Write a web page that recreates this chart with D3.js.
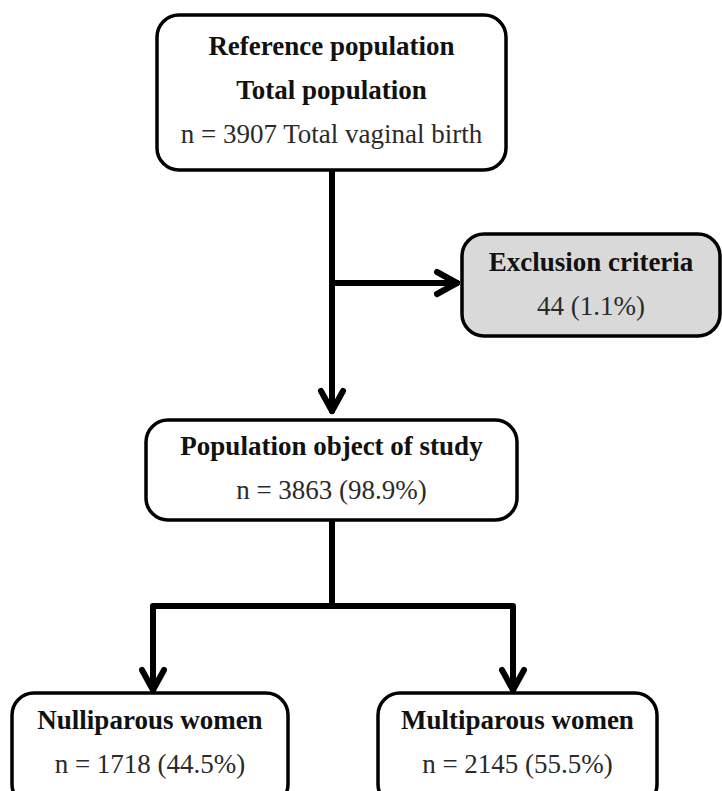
<!DOCTYPE html>
<html>
<head>
<meta charset="utf-8">
<title>Study flowchart</title>
<script src="https://d3js.org/d3.v7.min.js"></script>
<style>
  body { margin: 0; background: #fff; }
  svg text { font-family: "Liberation Serif", "DejaVu Serif", serif; }
</style>
</head>
<body>
<div id="chart"></div>
<script>
// chart data
const nodeIds = ["reference", "exclusion", "study", "nulliparous", "multiparous"];
const boldLines = [
  ["Reference population", "Total population"],
  ["Exclusion criteria"],
  ["Population object of study"],
  ["Nulliparous women"],
  ["Multiparous women"]
];
const counts = [3907, 44, 3863, 1718, 2145];
const percents = [null, 1.1, 98.9, 44.5, 55.5];
const countLabels = [
  "n = 3907 Total vaginal birth",
  "44 (1.1%)",
  "n = 3863 (98.9%)",
  "n = 1718 (44.5%)",
  "n = 2145 (55.5%)"
];

// layout (boxes as x0, y0, x1, y1)
const W = 722, H = 791;
const boxes = {
  reference:   [157, 15, 506, 170],
  exclusion:   [462, 234, 720, 336],
  study:       [146, 420, 517, 520],
  nulliparous: [12, 693, 288, 806],
  multiparous: [378, 693, 657, 806]
};
const fills = { exclusion: "#d9d9d9" };
const firstBaseline = { reference: 55, exclusion: 271, study: 455, nulliparous: 729, multiparous: 729 };
const lineGap = 44;

const svg = d3.select("#chart").append("svg")
  .attr("width", W).attr("height", H);

// connectors
const cx = 332;
const links = [
  { pts: [[cx, 170], [cx, 411]], arrow: "down" },
  { pts: [[cx, 283], [457, 283]], arrow: "right" },
  { pts: [[cx, 520], [cx, 606]], arrow: null },
  { pts: [[153, 690], [153, 606], [513, 606], [513, 690]], arrow: "both-down" }
];

const line = d3.line();
const g = svg.append("g")
  .attr("fill", "none")
  .attr("stroke", "#000")
  .attr("stroke-width", 6)
  .attr("stroke-linecap", "round")
  .attr("stroke-linejoin", "round");

g.selectAll("path.link")
  .data(links)
  .join("path")
  .attr("class", "link")
  .attr("d", d => line(d.pts));

function head(tip, dir) {
  const a = 20, p = 11;
  if (dir === "down") return [[tip[0] - p, tip[1] - a], tip, [tip[0] + p, tip[1] - a]];
  return [[tip[0] - a, tip[1] - p], tip, [tip[0] - a, tip[1] + p]];
}
const heads = [];
links.forEach(l => {
  if (l.arrow === "down" || l.arrow === "right") heads.push(head(l.pts[l.pts.length - 1], l.arrow));
  if (l.arrow === "both-down") {
    heads.push(head(l.pts[0], "down"));
    heads.push(head(l.pts[l.pts.length - 1], "down"));
  }
});
g.selectAll("path.head")
  .data(heads)
  .join("path")
  .attr("class", "head")
  .attr("d", d => line(d));

// boxes
const nodes = nodeIds.map((id, i) => ({
  id, box: boxes[id], bold: boldLines[i], label: countLabels[i], n: counts[i], pct: percents[i]
}));

const node = svg.selectAll("g.node")
  .data(nodes)
  .join("g")
  .attr("class", "node");

node.append("rect")
  .attr("x", d => d.box[0])
  .attr("y", d => d.box[1])
  .attr("width", d => d.box[2] - d.box[0])
  .attr("height", d => d.box[3] - d.box[1])
  .attr("rx", 22)
  .attr("fill", d => fills[d.id] || "#fff")
  .attr("stroke", "#000")
  .attr("stroke-width", 3.5);

node.each(function (d) {
  const sel = d3.select(this);
  const mid = (d.box[0] + d.box[2]) / 2;
  const lines = d.bold.map(t => ({ t, bold: true })).concat([{ t: d.label, bold: false }]);
  sel.selectAll("text")
    .data(lines)
    .join("text")
    .attr("x", mid)
    .attr("y", (l, j) => firstBaseline[d.id] + j * lineGap)
    .attr("text-anchor", "middle")
    .attr("font-size", 27)
    .attr("font-weight", l => l.bold ? "bold" : "normal")
    .attr("fill", l => l.bold ? "#111" : "#2a2a2a")
    .text(l => l.t);
});
</script>
</body>
</html>
